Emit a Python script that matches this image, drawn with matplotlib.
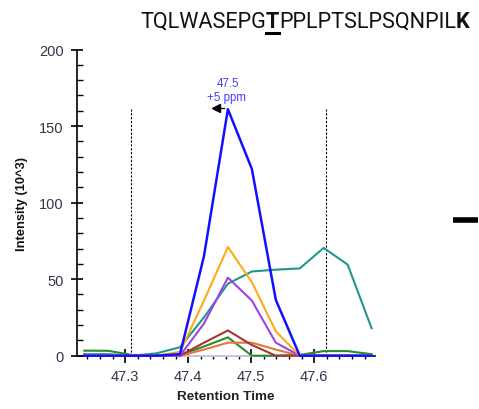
import matplotlib
matplotlib.use('Agg')
import matplotlib.pyplot as plt
from matplotlib.lines import Line2D
from matplotlib.ticker import MultipleLocator

plt.rcParams['font.family'] = ['Liberation Sans', 'DejaVu Sans']

# retention times of the scans
rt = [47.235, 47.273, 47.311, 47.349, 47.387, 47.425, 47.463,
      47.501, 47.539, 47.577, 47.615, 47.653, 47.691]

# intensities (10^3) per transition
lavender = [0, 0, 0, 0, 0, 0, 0, 0, 0, 0, 0, 0, 0]
green = [3.3, 3.2, 0.5, 0.3, 0.5, 6, 12, 0, 0, 0.5, 3, 3, 1]
teal = [1, 1, 0, 1.5, 5.5, 25, 47, 55, 56.2, 57, 70.4, 59.5, 18]
chocolate = [0, 0, 0, 0, 0, 4, 8.5, 8.5, 4, 0, 0, 0, 0]
brown = [0, 0, 0, 0, 0, 8.5, 16.5, 7, 0, 0, 0, 0, 0]
purple = [0, 0, 0, 0, 0, 21, 51, 36, 8.5, 0, 0, 0, 0]
orange = [0, 0, 0, 0, 2.5, 36, 71, 48, 16, 0, 0, 0, 0]
blue = [0, 0, 0, 0, 1, 65, 161, 122, 36.5, 0, 0, 0, 0]

series = [
    (lavender, '#c8c8ec', 1.4),
    (green, '#2a8c2a', 1.5),
    (teal, '#22968e', 1.5),
    (chocolate, '#dc7a3a', 1.5),
    (brown, '#a83434', 1.5),
    (purple, '#9b44e6', 1.5),
    (orange, '#ffa916', 1.5),
    (blue, '#1111ff', 1.8),
]

boundaries = [47.3095, 47.619]
peak_rt = 47.463
peak_int = 161

fig = plt.figure(figsize=(4.79, 4.10), dpi=100)
ax = fig.add_axes([0.1614, 0.13, 0.6209, 0.7468])

for ys, c, lw in series:
    ax.plot(rt, ys, color=c, lw=lw, clip_on=False, zorder=3)

ax.vlines(boundaries, 0, peak_int, colors='k', lw=0.8,
          linestyles=(0, (2, 1.5)), zorder=2)

# peak marker + label
ax.plot([peak_rt - 0.019, peak_rt - 0.006], [peak_int + 1] * 2, color='k', lw=0.9, zorder=4)
ax.plot(peak_rt - 0.019, peak_int + 1, marker='<', color='k', ms=6, zorder=4)
ax.text(peak_rt, peak_int + 17, '47.5', color='#4040ff', fontsize=8.3,
        ha='center', va='center')
ax.text(peak_rt - 0.002, peak_int + 8, '+5 ppm', color='#4040ff', fontsize=8.3,
        ha='center', va='center')

ax.set_xlim(47.224, 47.696)
ax.set_ylim(0, 200)
ax.xaxis.set_major_locator(MultipleLocator(0.1))
ax.xaxis.set_minor_locator(MultipleLocator(0.02))
ax.yaxis.set_major_locator(MultipleLocator(50))
ax.yaxis.set_minor_locator(MultipleLocator(10))
ax.xaxis.set_major_formatter(plt.FuncFormatter(lambda v, p: f'{v:.1f}'))

for s in ['top', 'right']:
    ax.spines[s].set_visible(False)
for s in ['left', 'bottom']:
    ax.spines[s].set_linewidth(1.2)

ax.tick_params(axis='y', which='major', direction='inout', length=9, width=1.2,
               pad=5.5, labelsize=10.5, labelcolor='#35354a')
ax.tick_params(axis='y', which='minor', direction='in', length=4, width=1.0)
ax.tick_params(axis='x', which='major', direction='inout', length=9.5, width=1.2,
               pad=4.5, labelsize=10.5, labelcolor='#35354a')
ax.tick_params(axis='x', which='minor', direction='out', length=2.5, width=1.0)

ax.set_xlabel('Retention Time', fontsize=9.7, fontweight='bold', color='#222222')
ax.xaxis.set_label_coords(0.5, -0.112)
ax.set_ylabel('Intensity (10^3)', fontsize=9.3, fontweight='bold', color='#111111')
ax.yaxis.set_label_coords(-0.166, 0.5)

# peptide title with the modified residue bold and underlined
W, H = 479, 410
r = fig.canvas.get_renderer()
pieces = [('TQLWASEPG', 'normal'), ('T', 'bold'), ('PPLPTSLPSQNPIL', 'normal'), ('K', 'bold')]
x_left, x_right = 140, 472
ybase = 1 - 28 / H
title_font = 'Roboto'

# first pass: measure the width, then scale the font to the wanted span
total = 0
for s, w in pieces:
    t = fig.text(0, 0, s, fontsize=16, fontweight=w, family=title_font)
    total += t.get_window_extent(r).width
    t.remove()
fs = 16 * (x_right - x_left) / total

x = x_left
for s, w in pieces:
    t = fig.text(x / W, ybase, s, fontsize=fs, fontweight=w, family=title_font,
                 va='baseline', ha='left', color='#111111')
    bb = t.get_window_extent(r)
    if s == 'T' and w == 'bold':
        fig.add_artist(Line2D([bb.x0 / W, bb.x1 / W], [1 - 34 / H] * 2,
                              color='k', lw=2.2, transform=fig.transFigure))
    x = bb.x1

# black dash at right
fig.add_artist(Line2D([453 / W, 478 / W], [1 - 221 / H] * 2, color='k', lw=4,
                      solid_capstyle='butt', transform=fig.transFigure))

fig.savefig('out.png', dpi=100)
